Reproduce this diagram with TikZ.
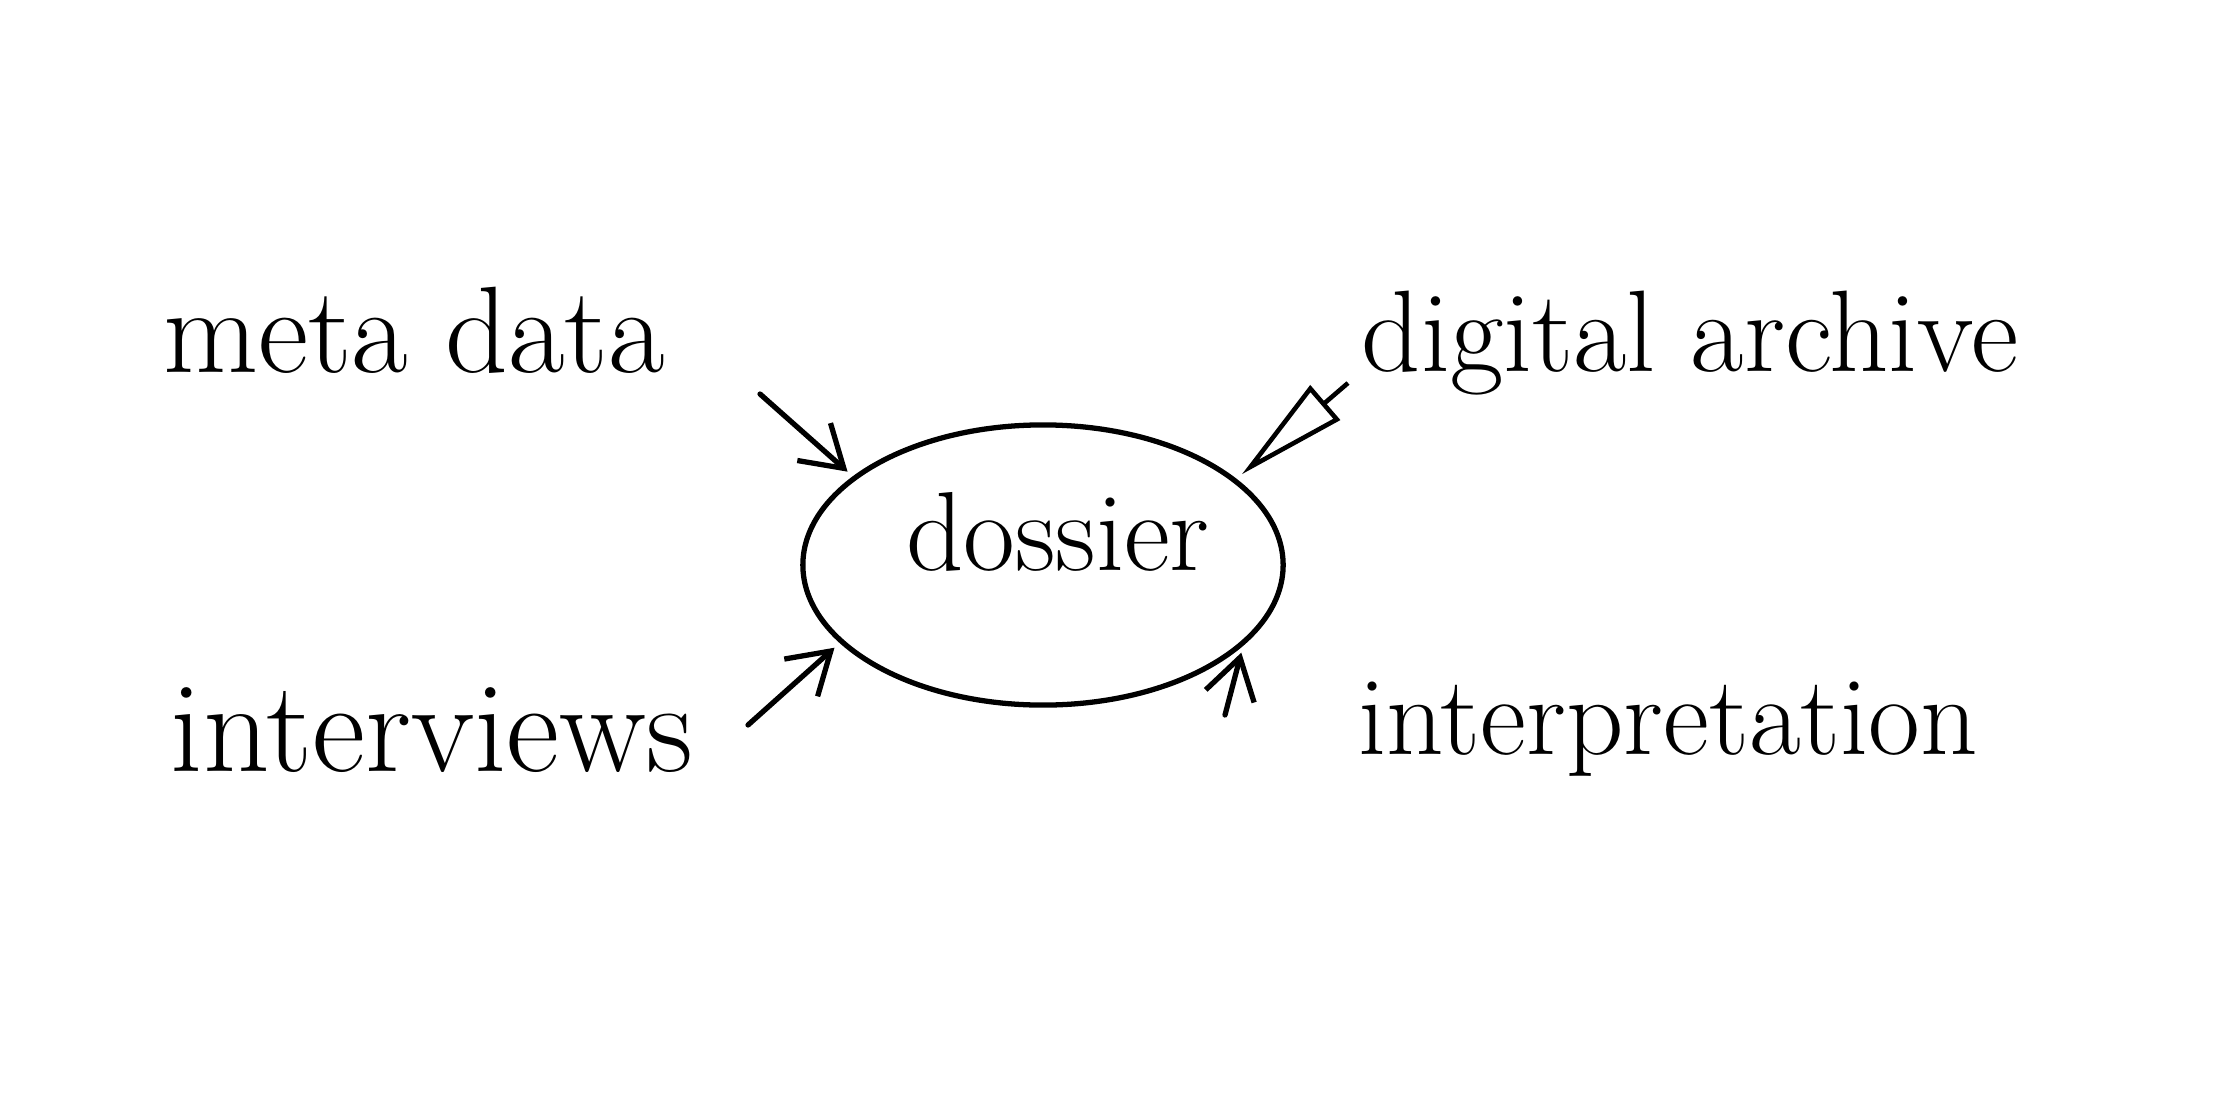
\documentclass[tikz,border=0pt]{standalone}
\usepackage{tikz}
\usetikzlibrary{shapes.geometric,arrows.meta}

\begin{document}
\begin{tikzpicture}[x=0.01cm,y=-0.01cm,
word/.style={font=\fontsize{#1}{40}\selectfont, inner sep=0pt},
word/.default=32,
feed/.style={-{Straight Barb[length=4mm,width=5mm]}, line width=1.5pt, line cap=round, shorten >=2pt},
hollow/.style={line width=1.3pt, -{Triangle[open,length=11mm,width=4.5mm]}, shorten >=2pt}]
\useasboundingbox (0,0) rectangle (2224,1100);
% the four sources round the dossier
\node[word=35] (meta) at (414,330) {meta data};
\node[word=33] (digital) at (1690,343) {digital archive};
\node[word=37] (interviews) at (432,730) {interviews};
\node[word] (interp) at (1668,729) {interpretation};
\node[draw, ellipse, line width=1.5pt, minimum width=4.8cm, minimum height=2.8cm] (dossier) at (1043,565) {};
\node[word] (dossiertext) at (1058,532) {dossier};
% arrows
\coordinate (metatail) at (760,394);
\coordinate (digitaltail) at (1348,383);
\coordinate (interviewstail) at (748,725);
\coordinate (interptail) at (1225,715);
\draw[feed] (metatail) -- (dossier.155);
\draw[hollow] (digitaltail) -- (dossier.24);
\draw[feed] (interviewstail) -- (dossier.201);
\draw[feed] (interptail) -- (dossier.338);
\end{tikzpicture}
\end{document}
